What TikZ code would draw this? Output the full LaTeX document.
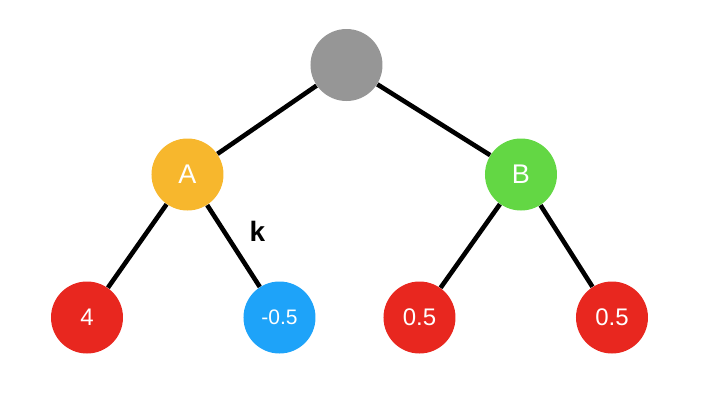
\documentclass[tikz,border=0pt]{standalone}
\usepackage{fontspec}
\setmainfont{Liberation Sans}
\usetikzlibrary{positioning}

\definecolor{rootgray}{HTML}{969696}
\definecolor{nodeorange}{HTML}{F7B72D}
\definecolor{nodegreen}{HTML}{63D744}
\definecolor{leafred}{HTML}{E8271F}
\definecolor{leafblue}{HTML}{1EA3F9}

\tikzset{
  tnode/.style={circle, minimum size=36pt, inner sep=0pt, text=white},
  inner/.style={tnode, font=\fontsize{13.5}{13.5}\selectfont},
  leaf/.style={tnode, font=\fontsize{12}{12}\selectfont},
  branch/.style={line width=2.3pt, black}
}

\begin{document}
\begin{tikzpicture}[on grid]
  \useasboundingbox (0,0) rectangle (360pt,-209pt);

  \node[tnode, fill=rootgray] (root) at (173.25pt,-32.5pt) {};
  \node[inner, fill=nodeorange] (A) [below left=54.75pt and 79.5pt of root] {A};
  \node[inner, fill=nodegreen] (B) [below right=54.75pt and 87.25pt of root] {B};

  \node[leaf, fill=leafred] (a1) [below left=71.5pt and 50.25pt of A] {4};
  \node[leaf, fill=leafblue, font=\fontsize{10.5}{10.5}\selectfont] (a2) [below right=71.5pt and 46pt of A] {-0.5};
  \node[leaf, fill=leafred] (b1) [below left=71.5pt and 50.75pt of B] {0.5};
  \node[leaf, fill=leafred] (b2) [below right=71.5pt and 45.5pt of B] {0.5};

  \draw[branch] (root) -- (A);
  \draw[branch] (root) -- (B);
  \draw[branch] (A) -- (a1);
  \draw[branch] (A) -- (a2)
    node[midway, xshift=11.9pt, yshift=7.15pt, font=\bfseries\fontsize{14}{14}\selectfont] (k) {k};
  \draw[branch] (B) -- (b1);
  \draw[branch] (B) -- (b2);
\end{tikzpicture}
\end{document}
